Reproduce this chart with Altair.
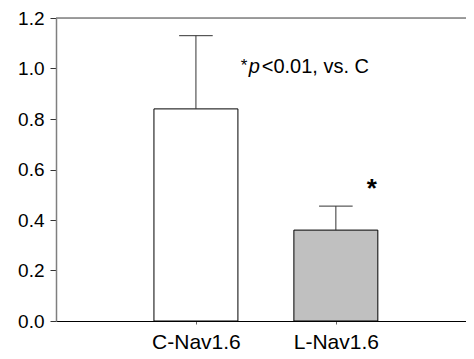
import json
import altair as alt
import pandas as pd

categories = ["C-Nav1.6", "L-Nav1.6"]
means = [0.84, 0.36]
err_tops = [1.13, 0.455]
y_ticks = [0.0, 0.2, 0.4, 0.6, 0.8, 1.0, 1.2]
note_star = "*"
note_p = "p"
note_rest = "<0.01, vs. C"
sig_star = "*"

bar_colors = ["#ffffff", "#c0c0c0"]
FONT = "Liberation Sans"

n = len(categories)
df = pd.DataFrame({"cat": categories, "mean": means, "top": err_tops})
df["pos"] = range(1, n + 1)
half_bar = 0.3
half_cap = 0.12
df["x0"] = df["pos"] - half_bar
df["x1"] = df["pos"] + half_bar
df["c0"] = df["pos"] - half_cap
df["c1"] = df["pos"] + half_cap

xscale = alt.Scale(domain=[0, 2.93], nice=False, zero=False)
yscale = alt.Scale(domain=[0, 1.2], nice=False, zero=True)

label_expr = json.dumps(categories) + "[datum.value - 1]"

x_axis = alt.Axis(title=None, values=list(range(1, n + 1)), labelExpr=label_expr,
                  labelAngle=0, labelFont=FONT, labelFontSize=21, labelColor="black",
                  labelPadding=7, tickSize=3, tickColor="#666666",
                  domainColor="black", domainWidth=1.2, grid=False)
y_axis = alt.Axis(title=None, values=y_ticks, format=".1f", grid=False,
                  labelFont=FONT, labelFontSize=19, labelColor="black",
                  labelPadding=6, tickSize=6, tickColor="#333333",
                  domainColor="#7f7f7f", domainWidth=1.5)

base = alt.Chart(df)

bars = base.mark_bar(stroke="black", strokeWidth=1).encode(
    x=alt.X("x0:Q", scale=xscale, axis=x_axis),
    x2="x1:Q",
    y=alt.Y("mean:Q", scale=yscale, axis=y_axis),
    y2=alt.datum(0),
    color=alt.Color("cat:N", scale=alt.Scale(domain=categories, range=bar_colors), legend=None),
)

err_line = base.mark_rule(color="#333333", strokeWidth=1).encode(
    x=alt.X("pos:Q", scale=xscale),
    y=alt.Y("mean:Q", scale=yscale),
    y2="top:Q",
)

caps = base.mark_rule(color="#333333", strokeWidth=1).encode(
    x=alt.X("c0:Q", scale=xscale),
    x2="c1:Q",
    y=alt.Y("top:Q", scale=yscale),
)

top_line = alt.Chart(pd.DataFrame({"y": [y_ticks[-1]]})).mark_rule(
    color="#7f7f7f", strokeWidth=1.5).encode(y=alt.Y("y:Q", scale=yscale))

ann_df = pd.DataFrame({"x": [1.32], "y": [0.982]})
ann_star = alt.Chart(ann_df).mark_text(
    text=note_star, font=FONT, fontSize=17, align="left", baseline="alphabetic", dy=-2
).encode(x=alt.X("x:Q", scale=xscale), y=alt.Y("y:Q", scale=yscale))
ann_p = alt.Chart(ann_df).mark_text(
    text=note_p, font=FONT, fontSize=20, fontStyle="italic", align="left",
    baseline="alphabetic", dx=8
).encode(x=alt.X("x:Q", scale=xscale), y=alt.Y("y:Q", scale=yscale))
ann_rest = alt.Chart(ann_df).mark_text(
    text=note_rest, font=FONT, fontSize=20, align="left", baseline="alphabetic", dx=21
).encode(x=alt.X("x:Q", scale=xscale), y=alt.Y("y:Q", scale=yscale))

sig_df = pd.DataFrame({"x": [2.257], "y": [0.543]})
sig = alt.Chart(sig_df).mark_text(
    text=sig_star, font=FONT, fontSize=26, fontWeight="bold", align="center",
    baseline="middle", dy=5
).encode(x=alt.X("x:Q", scale=xscale), y=alt.Y("y:Q", scale=yscale))

chart = alt.layer(bars, err_line, caps, top_line, ann_star, ann_p, ann_rest, sig).properties(
    width=410, height=303,
    autosize="none",
    padding={"left": 48, "top": 10, "right": 0, "bottom": 30},
).configure_view(stroke=None).configure(background="white")

chart.save("out.html", embed_options={"renderer": "svg", "actions": False})
